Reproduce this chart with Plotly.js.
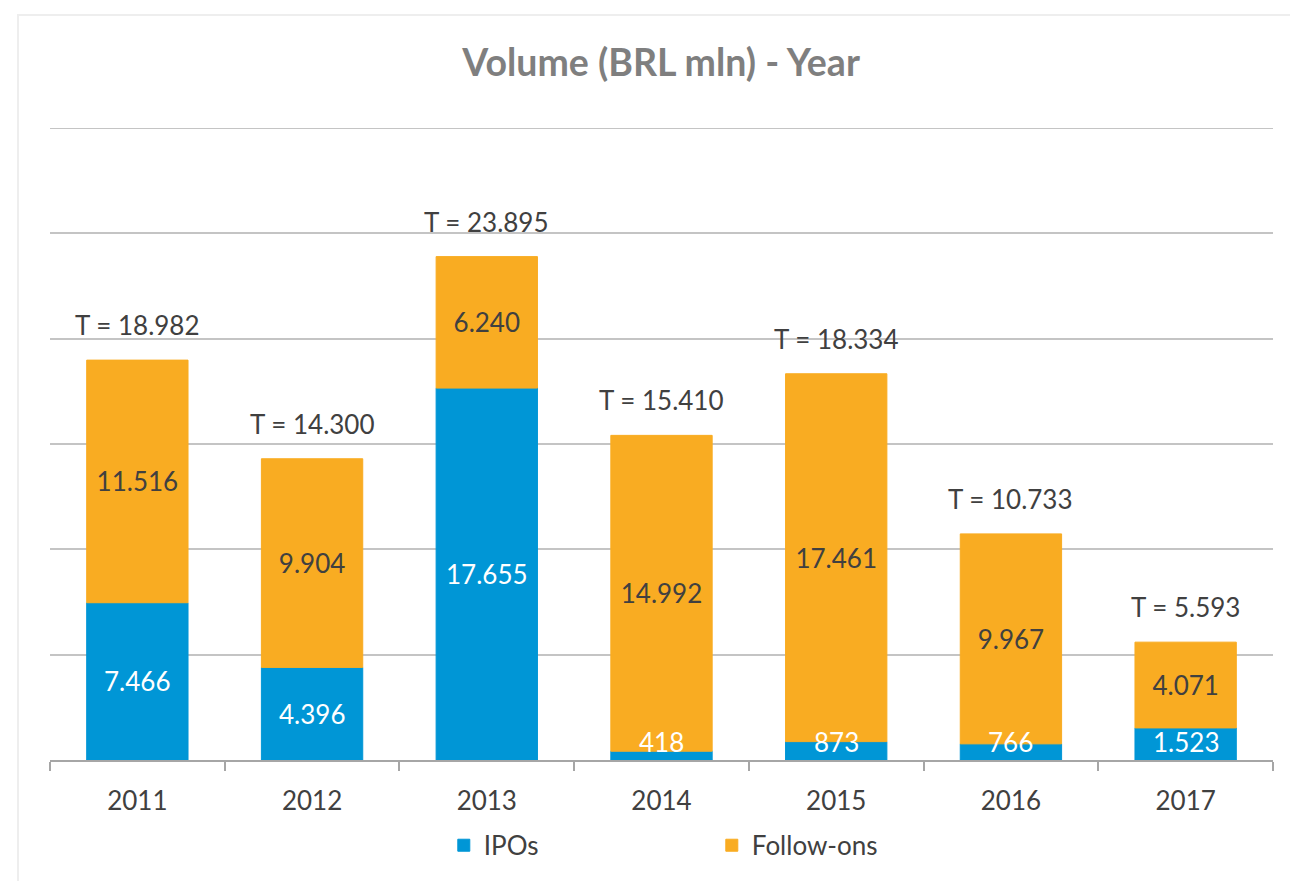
<!DOCTYPE html>
<html>
<head>
<meta charset="utf-8">
<script src="https://cdn.plot.ly/plotly-3.0.1.min.js"></script>
<style>
html,body{margin:0;padding:0;background:#fff;}
#chart{width:1290px;height:881px;}
</style>
</head>
<body>
<div id="chart"></div>
<script>
const years = ['2011','2012','2013','2014','2015','2016','2017'];
const ipos = [7466, 4396, 17655, 418, 873, 766, 1523];
const followOns = [11516, 9904, 6240, 14992, 17461, 9967, 4071];
const totals = [18982, 14300, 23895, 15410, 18334, 10733, 5593];

function fmt(n){ return String(n).replace(/\B(?=(\d{3})+(?!\d))/g, '.'); }

const FONT = 'Lato, "Open Sans", sans-serif';
const BLUE = '#0096d6';
const ORANGE = '#f9ac22';
const DARK = '#404040';
const YMAX = 30000;
const PLOT_H = 632;
// keep small IPO labels inside the plot area (label half-height ~18px)
const minLabelY = 18 * YMAX / PLOT_H;

const traces = [
  {
    type:'bar', name:'IPOs', x:years, y:ipos,
    marker:{color:BLUE, line:{color:BLUE, width:1}},
    hoverinfo:'skip'
  },
  {
    type:'bar', name:'Follow-ons', x:years, y:followOns, base:ipos,
    marker:{color:ORANGE, line:{color:ORANGE, width:1}},
    text: followOns.map(fmt), textposition:'inside', insidetextanchor:'middle',
    constraintext:'none', textangle:0,
    textfont:{family:FONT, size:26, color:DARK},
    hoverinfo:'skip'
  }
];

const totalAnn = years.map((yr,i)=>({
  x: i, y: totals[i], xref:'x', yref:'y',
  text: 'T = ' + fmt(totals[i]),
  showarrow:false, yanchor:'bottom', yshift:17,
  font:{family:FONT, size:26, color:DARK}
}));
const ipoAnn = years.map((yr,i)=>({
  x: i, y: Math.max(ipos[i]/2, minLabelY), xref:'x', yref:'y',
  text: fmt(ipos[i]),
  showarrow:false, yanchor:'middle',
  font:{family:FONT, size:26, color:'#ffffff'}
}));

const layout = {
  width:1290, height:881,
  margin:{l:50, r:17, t:128, b:121},
  paper_bgcolor:'#ffffff', plot_bgcolor:'#ffffff',
  barmode:'overlay', bargap:0.42,
  showlegend:true,
  title:{text:'<b>Volume (BRL mln) - Year</b>', x:0.5125, xanchor:'center', y:0.929, yanchor:'middle',
         font:{family:FONT, size:37.5, color:'#7f7f7f'}},
  xaxis:{
    type:'category', categoryorder:'array', categoryarray:years,
    range:[-0.5, years.length-0.5], autorange:false,
    showline:true, linecolor:'#a6a6a6', linewidth:2,
    ticks:'outside', tickson:'boundaries', ticklen:9, tickwidth:2, tickcolor:'#a6a6a6',
    tickangle:0, ticklabelstandoff:17, tickfont:{family:FONT, size:26, color:DARK},
    showgrid:false, fixedrange:true
  },
  yaxis:{
    range:[0,YMAX], autorange:false, dtick:5000, tick0:0, showgrid:true, gridcolor:'#c4c4c4', gridwidth:2,
    showticklabels:false, zeroline:false, showline:false, ticks:'', fixedrange:true
  },
  legend:{
    orientation:'h', traceorder:'normal', x:0.322, xanchor:'left', y:-0.135, yanchor:'middle',
    entrywidth:223, entrywidthmode:'pixels',
    font:{family:FONT, size:26, color:DARK}, itemclick:false, itemdoubleclick:false
  },
  annotations: ipoAnn.concat(totalAnn),
  shapes:[
    {
      type:'rect', xref:'paper', yref:'paper',
      x0:(18-50)/1223, x1:(1300-50)/1223, y0:(760-900)/632, y1:(760-15)/632,
      line:{color:'#eeeeee', width:2}, fillcolor:'rgba(0,0,0,0)', layer:'below'
    },
    {
      type:'line', xref:'paper', yref:'y', x0:0, x1:1, y0:YMAX, y1:YMAX,
      line:{color:'#c4c4c4', width:2}, layer:'below'
    }
  ]
};

Plotly.newPlot('chart', traces, layout, {displayModeBar:false, staticPlot:true});
</script>
</body>
</html>
